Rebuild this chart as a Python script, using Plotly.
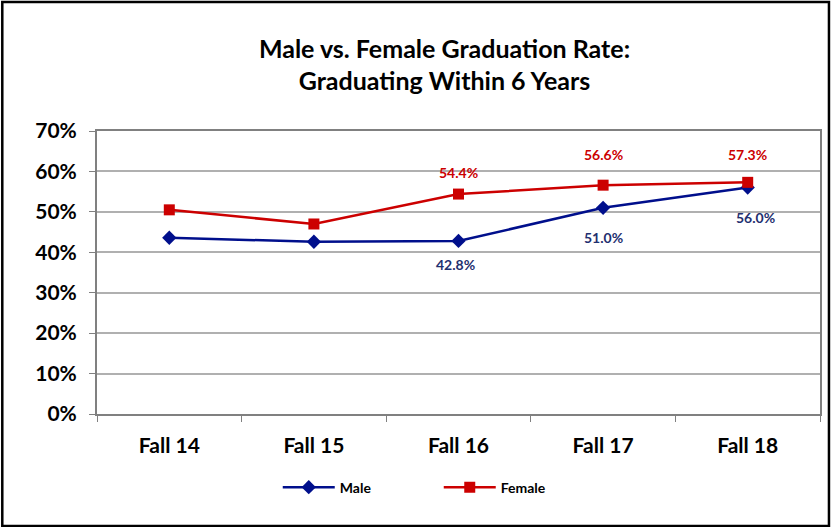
import plotly.graph_objects as go

categories = ["Fall 14", "Fall 15", "Fall 16", "Fall 17", "Fall 18"]
male = [43.6, 42.6, 42.8, 51.0, 56.0]
female = [50.5, 47.0, 54.4, 56.6, 57.3]
male_labels = ["", "", "42.8%", "51.0%", "56.0%"]
female_labels = ["", "", "54.4%", "56.6%", "57.3%"]
y_ticks = [0, 10, 20, 30, 40, 50, 60, 70]

FONT = "Lato, Open Sans, sans-serif"
BLUE = "#000f8c"
RED = "#cc0000"

fig = go.Figure()
fig.add_trace(go.Scatter(x=categories, y=male, name="Male", mode="lines+markers",
                         line=dict(color=BLUE, width=2.5),
                         marker=dict(symbol="diamond", size=11, color=BLUE)))
fig.add_trace(go.Scatter(x=categories, y=female, name="Female", mode="lines+markers",
                         line=dict(color=RED, width=2.5),
                         marker=dict(symbol="square", size=11, color=RED)))

m_shift = [0, 0, -24, -30, -30]
m_xshift = [0, 0, -3, 0, 8]
f_shift = [0, 0, 22, 31, 28]
f_xshift = [0, 0, 0, 0, 0]
for i, c in enumerate(categories):
    if male_labels[i]:
        fig.add_annotation(x=c, y=male[i], text=male_labels[i], showarrow=False,
                           yshift=m_shift[i], xshift=m_xshift[i],
                           font=dict(family=FONT, size=14, color="#1f3070", weight="bold"))
    if female_labels[i]:
        fig.add_annotation(x=c, y=female[i], text=female_labels[i], showarrow=False,
                           yshift=f_shift[i], xshift=f_xshift[i],
                           font=dict(family=FONT, size=14, color=RED, weight="bold"))

# outer chart border (paper coords relative to plot domain)
fig.add_shape(type="rect", xref="paper", yref="paper",
              x0=-0.1310, x1=1.0124, y0=-0.3958, y1=1.4558,
              line=dict(color="black", width=2.5))

fig.update_layout(
    width=834, height=527,
    margin=dict(l=97, r=12, t=131, b=113),
    paper_bgcolor="white", plot_bgcolor="white",
    title=dict(text="Male vs. Female Graduation Rate:<br>Graduating Within 6 Years",
               x=0.533, xanchor="center", y=0.89, yanchor="middle",
               font=dict(family=FONT, size=25, color="black", weight="bold")),
    legend=dict(orientation="h", x=0.25, xanchor="left", y=-0.26, yanchor="middle",
                font=dict(family=FONT, size=14, color="black", weight="bold"),
                itemwidth=52, entrywidth=94, entrywidthmode="pixels", tracegroupgap=0),
    showlegend=True,
)
fig.update_xaxes(type="category", range=[-0.5, 4.5], tickson="boundaries",
                 ticks="outside", ticklen=6, tickcolor="#808080",
                 showline=True, linecolor="#808080", linewidth=2, mirror=True,
                 showgrid=False, ticklabelstandoff=12,
                 tickfont=dict(family=FONT, size=21, color="black", weight="bold"))
fig.update_yaxes(range=[0, 70], tickvals=y_ticks, ticktext=[f"{v}%" for v in y_ticks],
                 ticks="outside", ticklen=6, tickcolor="#808080",
                 showline=True, linecolor="#808080", linewidth=2, mirror=True,
                 showgrid=True, gridcolor="#b0b0b0", gridwidth=1.5, ticklabelstandoff=8,
                 tickfont=dict(family=FONT, size=21, color="black", weight="bold"))

fig.write_html("out.html", config={"displayModeBar": False},
               post_script="document.body.style.margin='0';document.body.style.overflow='hidden';")
